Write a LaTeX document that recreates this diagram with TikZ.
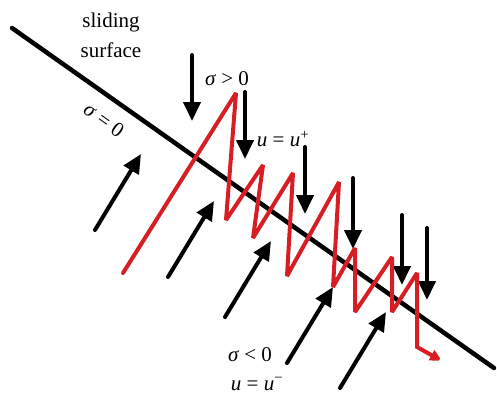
\documentclass[tikz,border=0pt]{standalone}
\usepackage{fontspec}
\setmainfont{Liberation Serif}
\usetikzlibrary{arrows.meta}
\definecolor{zigred}{RGB}{214,30,36}

\begin{document}
\begin{tikzpicture}[x=1pt,y=-1pt,line cap=round,
  push/.style={line width=4pt,-{Triangle[length=19pt,width=17pt]}},
  lbl/.style={font=\fontsize{21}{30}\selectfont,inner sep=0pt}]
  \useasboundingbox (0,0) rectangle (497,394);

  % Sliding surface
  \draw[line width=4.5pt] (12,28) -- (494,368);
  \node[lbl,align=center] (title) at (111,35) {sliding\\surface};
  \node[lbl,rotate=-35.2] (zero) at (104,120) {\textit{σ} = 0};

  % Control action above the surface
  \foreach \x/\a/\b in {192/55/121,245/92/159,305/147/214,353/178/249,402/215/285,427/228/300}
    \draw[push] (\x,\a) -- (\x,\b);
  \node[lbl] (pos) at (227,79) {\textit{σ} > 0};
  \node[lbl] (uplus) at (283,139) {\textit{u} = \textit{u}\textsuperscript{+}};

  % Control action below the surface
  \foreach \x/\y in {95/230,168/277,225/317,287/363,340/388}
    \draw[push] (\x,\y) -- ++(46,-76);
  \node[lbl] (neg) at (250,355) {\textit{σ} < 0};
  \node[lbl] (uminus) at (257,384) {\textit{u} = \textit{u}\textsuperscript{−}};

  % Chattering trajectory
  \draw[zigred,line width=4pt,line join=miter,miter limit=2,-{Triangle[length=12pt,width=11pt]}]
    (123,273) -- (236,93) -- (226,220) -- (263,165) -- (253,238) -- (293,173)
    -- (287,276) -- (339,182) -- (333,287) -- (355,248) -- (355,312)
    -- (392,257) -- (392,312) -- (417,273) -- (417,347) -- (442,361);
\end{tikzpicture}
\end{document}
